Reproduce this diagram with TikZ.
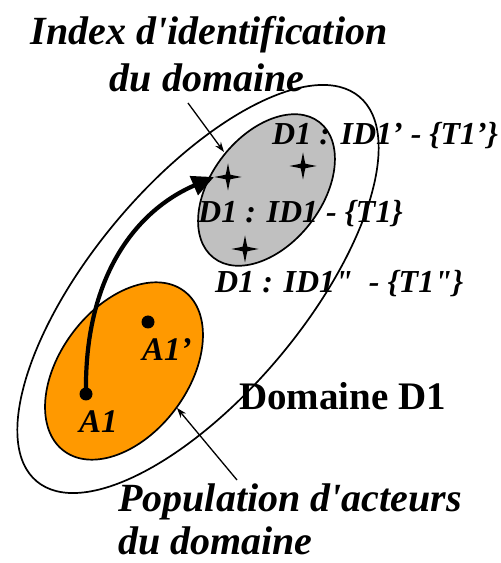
\documentclass[tikz,border=0pt]{standalone}
\usepackage{fontspec}
\setmainfont{Liberation Serif}[Ligatures=TeXOff]
\usetikzlibrary{arrows.meta}
\definecolor{orng}{HTML}{FF9900}
\definecolor{gry}{HTML}{C0C0C0}
\begin{document}
\begin{tikzpicture}[x=1pt,y=1pt,
  outl/.style={draw=black,line width=1.7pt},
  lbl/.style={inner sep=0pt,anchor=base west,font=\fontsize{32}{36}\selectfont\bfseries\itshape},
  big/.style={inner sep=0pt,font=\fontsize{40}{46}\selectfont\bfseries\itshape},
  dotnode/.style={circle,fill=black,inner sep=0pt,minimum size=13pt},
  sparkle/.pic={\fill (0,13.5) -- (2.3,2.3) -- (13.5,0) -- (2.3,-2.3) -- (0,-13.5) -- (-2.3,-2.3) -- (-13.5,0) -- (-2.3,2.3) -- cycle;},
  thinarrow/.style={line width=1.3pt,-{Stealth[length=10pt,width=7pt]}}]
\useasboundingbox (0,0) rectangle (501,563);
% outer domain ellipse
\draw[outl] (198,274) ellipse[x radius=251,y radius=106,rotate=50];
% grey ellipse
\draw[outl,fill=gry] (266.5,373) ellipse[x radius=86,y radius=55,rotate=52];
% orange ellipse
\draw[outl,fill=orng] (124,192) ellipse[x radius=100,y radius=64,rotate=53];
% stars
\pic at (228,386) {sparkle};
\pic at (303,397) {sparkle};
\pic at (245,314) {sparkle};
% dots
\node[dotnode] (a1) at (86,169) {};
\node[dotnode] (a1p) at (148,241) {};
\coordinate (tip) at (214,386);
\draw[line width=4.2pt,-{Triangle[length=22pt,width=20pt]}] (a1.center) .. controls (84,285) and (135,352) .. (tip);
% labels
\node[lbl] (l1) at (272,418) {D1 : ID1’ - \{T1’\}};
\node[lbl] (l2) at (198,340) {D1 : ID1 - \{T1\}};
\node[lbl] (l3) at (215,270) {D1 : ID1"\ \ - \{T1"\}};
\node[lbl,font=\fontsize{33}{36}\selectfont\bfseries\itshape] (ta1p) at (142,202) {A1’};
\node[lbl,font=\fontsize{33}{36}\selectfont\bfseries\itshape] (ta1) at (79,130) {A1};
\node[inner sep=0pt,anchor=base west,font=\fontsize{39}{46}\selectfont\bfseries] (dom) at (239,153) {Domaine D1};
% title texts
\node[big,anchor=base] (idx1) at (209,518) {Index d'identification};
\node[big,anchor=base] (idx2) at (207,471) {du domaine};
\node[big,anchor=base west] (pop1) at (118,51) {Population d'acteurs};
\node[big,anchor=base west] (pop2) at (118,9) {du domaine};
% pointers
\coordinate (idxs) at (188,460);
\coordinate (idxe) at (224,411);
\coordinate (pops) at (237,83);
\coordinate (pope) at (177,155);
\draw[thinarrow] (idxs) -- (idxe);
\draw[thinarrow] (pops) -- (pope);
\end{tikzpicture}
\end{document}
